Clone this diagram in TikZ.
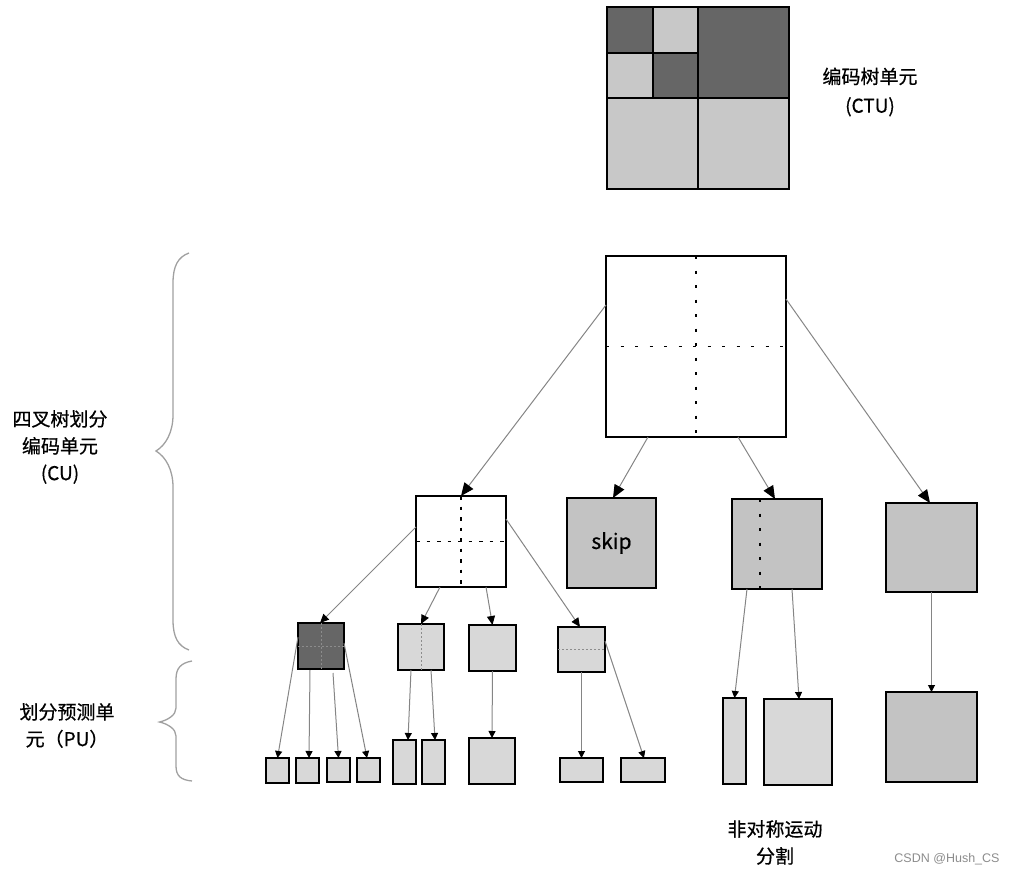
\documentclass[tikz,border=0pt]{standalone}
\usepackage{fontspec}
\setmainfont{Noto Sans CJK SC}[FakeBold=0.6]
\newfontfamily\wmfont{Liberation Sans}
\usetikzlibrary{arrows.meta,calc}
\definecolor{dk}{HTML}{666666}
\definecolor{lt}{HTML}{C8C8C8}
\definecolor{md}{HTML}{C3C3C3}
\definecolor{pl}{HTML}{D8D8D8}
\definecolor{ln}{HTML}{858585}
\definecolor{br}{HTML}{A0A0A0}
\definecolor{fd}{HTML}{8C8C8C}
\begin{document}
\begin{tikzpicture}[x=1pt,y=-1pt,
  box/.style={draw=black, line width=2pt, inner sep=0pt, outer sep=0pt},
  big/.style={draw=ln, line width=1pt, -{Triangle[color=black,length=13pt,width=11pt]}},
  mid/.style={draw=ln, line width=1pt, -{Triangle[color=black,length=9pt,width=8pt]}},
  sml/.style={draw=ln, line width=1pt, -{Triangle[color=black,length=7pt,width=7pt]}},
  rootdot/.style={draw=black, line width=1.8pt, dash pattern=on 3pt off 11.5pt},
  cudot/.style={draw=black, line width=1.8pt, dash pattern=on 3.5pt off 7pt},
  fine/.style={draw=fd, line width=1pt, dash pattern=on 1.5pt off 2.5pt},
  lbl/.style={align=center, inner sep=0pt, font=\fontsize{19pt}{27pt}\selectfont},
  bracestyle/.style={draw=br, line width=1.3pt}
]
\useasboundingbox (0,0) rectangle (1013,875);

% ---------- CTU ----------
\fill[dk] (607,7) rectangle (653,53);
\fill[lt] (653,7) rectangle (698,53);
\fill[lt] (607,53) rectangle (653,98);
\fill[dk] (653,53) rectangle (698,98);
\fill[dk] (698,7) rectangle (789,98);
\fill[lt] (607,98) rectangle (698,189);
\fill[lt] (698,98) rectangle (789,189);
\draw[line width=2pt] (653,7) -- (653,98) (607,53) -- (698,53)
  (698,7) -- (698,189) (607,98) -- (789,98);
\node[box, minimum width=182pt, minimum height=182pt] (ctu) at (698,98) {};
\node[lbl, font=\fontsize{19pt}{29pt}\selectfont] (ctulbl) at (870,92) {编码树单元\\(CTU)};

% ---------- CU tree ----------
\node[box, fill=white, minimum width=180pt, minimum height=181pt] (root) at (696,346.5) {};
\draw[rootdot] (root.north) -- (root.south);
\draw[rootdot] (root.west) -- (root.east);

\node[box, fill=white, minimum width=90pt, minimum height=91pt] (cu1) at (461,541.5) {};
\draw[cudot] (cu1.north) -- (cu1.south);
\draw[cudot] (cu1.west) -- (cu1.east);
\node[box, fill=md, minimum width=89pt, minimum height=90pt, font=\fontsize{21pt}{24pt}\selectfont] (skip) at (611.5,543) {skip};
\node[box, fill=md, minimum width=90pt, minimum height=90pt] (cu3) at (777,544) {};
\draw[rootdot] ($(cu3.north west)+(28,0)$) -- ($(cu3.south west)+(28,0)$);
\node[box, fill=md, minimum width=91pt, minimum height=89pt] (cu4) at (931.5,547.5) {};

\draw[big] ($(root.north west)+(0,49)$) -- (cu1.north);
\draw[big] ($(root.south west)+(42,0)$) -- ($(skip.north)+(1.5,0)$);
\draw[big] ($(root.south west)+(132,0)$) -- ($(cu3.north)+(-2,0)$);
\draw[big] ($(root.north east)+(0,43)$) -- ($(cu4.north)+(-1.5,0)$);

% level 3
\node[box, fill=dk, minimum width=46pt, minimum height=46pt] (pa) at (321,646) {};
\draw[fine] (pa.north) -- (pa.south);
\draw[fine] (pa.west) -- (pa.east);
\node[box, fill=pl, minimum width=46pt, minimum height=46pt] (pb) at (421,647) {};
\draw[fine] (pb.north) -- (pb.south);
\node[box, fill=pl, minimum width=47pt, minimum height=46pt] (pc) at (492.5,648) {};
\node[box, fill=pl, minimum width=47pt, minimum height=45pt] (pd) at (581.5,649.5) {};
\draw[fine] (pd.west) -- (pd.east);

\draw[mid] ($(cu1.north west)+(0,31)$) -- ($(pa.north)+(-1,0)$);
\draw[mid] ($(cu1.south west)+(24,0)$) -- (pb.north);
\draw[mid] ($(cu1.south west)+(70,0)$) -- (pc.north);
\draw[mid] ($(cu1.north east)+(0,23)$) -- ($(pd.north)+(-1.5,0)$);

% PU level
\node[box, fill=pl, minimum width=23pt, minimum height=25pt] (a1) at (277.5,770.5) {};
\node[box, fill=pl, minimum width=23pt, minimum height=25pt] (a2) at (307.5,770.5) {};
\node[box, fill=pl, minimum width=23pt, minimum height=24pt] (a3) at (338.5,770) {};
\node[box, fill=pl, minimum width=23pt, minimum height=24pt] (a4) at (368.5,770) {};
\node[box, fill=pl, minimum width=23pt, minimum height=44pt] (b1) at (404.5,762) {};
\node[box, fill=pl, minimum width=23pt, minimum height=44pt] (b2) at (433.5,762) {};
\node[box, fill=pl, minimum width=46pt, minimum height=46pt] (c1) at (492,761) {};
\node[box, fill=pl, minimum width=43pt, minimum height=24pt] (d1) at (581.5,770) {};
\node[box, fill=pl, minimum width=44pt, minimum height=24pt] (d2) at (643,770) {};
\node[box, fill=pl, minimum width=23pt, minimum height=86pt] (e1) at (734.5,741) {};
\node[box, fill=pl, minimum width=68pt, minimum height=86pt] (e2) at (798,742) {};
\node[box, fill=md, minimum width=91pt, minimum height=90pt] (f1) at (931.5,737) {};

\draw[sml] ($(pa.north west)+(0,14)$) -- (a1.north);
\draw[sml] ($(pa.south west)+(12,1)$) -- ($(a2.north)+(1.5,0)$);
\draw[sml] ($(pa.south west)+(35,4)$) -- (a3.north);
\draw[sml] ($(pa.north east)+(0,20)$) -- ($(a4.north)+(-1.5,0)$);
\draw[sml] ($(pb.south west)+(13,0)$) -- ($(b1.north)+(3.5,0)$);
\draw[sml] ($(pb.south west)+(33,0)$) -- ($(b2.north)+(1.5,0)$);
\draw[sml] (pc.south) -- (c1.north);
\draw[sml] (pd.south) -- (d1.north);
\draw[sml] ($(pd.north east)+(0,14)$) -- ($(d2.north)+(1,0)$);
\draw[sml] ($(cu3.south west)+(15,0)$) -- (e1.north);
\draw[sml] ($(cu3.south west)+(60,0)$) -- ($(e2.north)+(1,0)$);
\draw[sml] (cu4.south) -- (f1.north);

% ---------- labels ----------
\node[lbl] (culbl) at (60,447) {四叉树划分\\编码单元\\(CU)};
\node[lbl] (pulbl) at (67,725.5) {划分预测单\\元（PU）};
\node[lbl] (amplbl) at (775,842.5) {非对称运动\\分割};
\node[inner sep=0pt, text=fd, font=\wmfont\fontsize{12.5pt}{14pt}\selectfont] (wm) at (947,859) {CSDN @Hush\_CS};

% ---------- braces ----------
\draw[bracestyle] (189,253) .. controls (178,257) and (173,266) .. (173,283)
  -- (173,415) .. controls (173,432) and (166,445) .. (156,451)
  .. controls (166,457) and (173,470) .. (173,487)
  -- (173,620) .. controls (173,637) and (178,646) .. (189,650);
\draw[bracestyle] (192,661) .. controls (181,663) and (176,668) .. (176,679)
  -- (176,708) .. controls (176,715) and (168,720) .. (159.5,722)
  .. controls (168,724) and (176,729) .. (176,736)
  -- (176,766) .. controls (176,776) and (181,780) .. (192,781);
\end{tikzpicture}
\end{document}
